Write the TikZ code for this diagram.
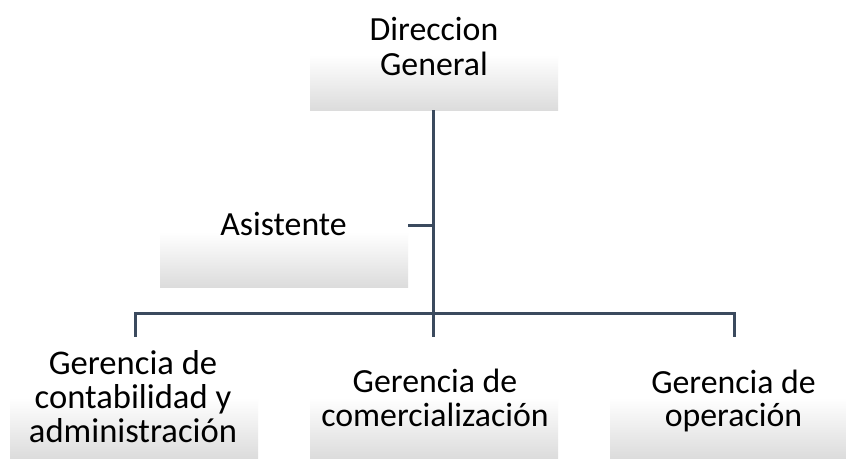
\documentclass[tikz,border=0pt]{standalone}
\usepackage{fontspec}
\setmainfont{Carlito}
\definecolor{linec}{HTML}{3B4A5E}
\definecolor{boxbot}{HTML}{DCDCDC}
\begin{document}
\begin{tikzpicture}[x=1pt,y=-1pt,
  orgbox/.style={rectangle, minimum width=248pt, minimum height=110pt, inner sep=0pt,
    top color=white, bottom color=boxbot, middle color=white, draw=none},
  lbl/.style={align=center, font=\fontsize{33.8}{33.5}\selectfont, inner sep=0pt, text=black},
  conn/.style={draw=linec, line width=3pt}]
\useasboundingbox (0,0) rectangle (846,458);
\clip (0,0) rectangle (846,458);
\fill[white] (0,0) rectangle (846,458);
% boxes
\node[orgbox] (dg) at (434,55) {};
\node[orgbox] (as) at (284,232) {};
\node[orgbox, minimum height=121pt] (g1) at (134,397.5) {};
\node[orgbox, minimum height=121pt] (g2) at (434,397.5) {};
\node[orgbox, minimum height=121pt] (g3) at (734,397.5) {};
% labels
\node[lbl, font=\fontsize{33.8}{35}\selectfont] (tdg) at (434,46.5) {Direccion\\General};
\node[lbl] (tas) at (283.5,224) {Asistente};
\node[lbl, font=\fontsize{34.6}{34}\selectfont] (tg1) at (133,397) {Gerencia de\\contabilidad y\\administración};
\node[lbl] (tg2) at (435,398) {Gerencia de\\comercialización};
\node[lbl] (tg3) at (733.5,401) {Gerencia de\\operación};
% connectors
\coordinate (trunk) at (433,313);
\coordinate (asj) at (433,225);
\coordinate (b1) at (135,313);
\coordinate (b3) at (734,313);
\draw[conn] (433,110) -- (trunk);
\draw[conn] (as.east |- asj) -- (asj);
\draw[conn] (b1 |- g1.north) -- (b1) -- (b3) -- (b3 |- g3.north);
\draw[conn] (trunk) -- (trunk |- g2.north);
\end{tikzpicture}
\end{document}
